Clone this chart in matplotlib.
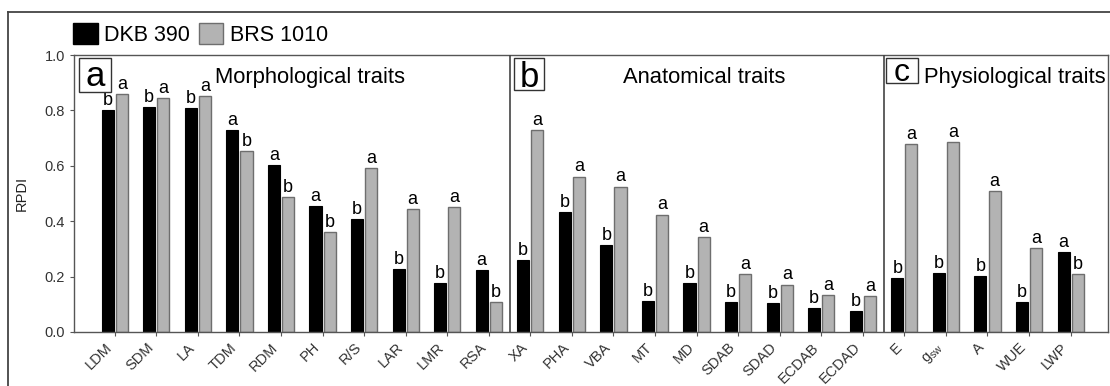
import numpy as np
import matplotlib
matplotlib.use('Agg')
import matplotlib.pyplot as plt
import matplotlib.transforms as mtransforms
from matplotlib.patches import Rectangle
from matplotlib.lines import Line2D

plt.rcParams['font.family'] = ['Liberation Sans', 'DejaVu Sans']

traits = ['LDM', 'SDM', 'LA', 'TDM', 'RDM', 'PH', 'R/S', 'LAR', 'LMR', 'RSA',
          'XA', 'PHA', 'VBA', 'MT', 'MD', 'SDAB', 'SDAD', 'ECDAB', 'ECDAD',
          'E', r'g$_{\mathregular{sw}}$', 'A', 'WUE', 'LWP']
dkb390 = [0.800, 0.812, 0.810, 0.728, 0.602, 0.455, 0.408, 0.226, 0.178, 0.225,
          0.260, 0.433, 0.314, 0.113, 0.178, 0.107, 0.105, 0.085, 0.076,
          0.194, 0.214, 0.203, 0.107, 0.290]
brs1010 = [0.858, 0.844, 0.853, 0.653, 0.486, 0.360, 0.591, 0.443, 0.450, 0.107,
           0.729, 0.561, 0.525, 0.424, 0.343, 0.209, 0.171, 0.134, 0.129,
           0.678, 0.685, 0.509, 0.302, 0.210]
letters_dkb = ['b', 'b', 'b', 'a', 'a', 'a', 'b', 'b', 'b', 'a',
               'b', 'b', 'b', 'b', 'b', 'b', 'b', 'b', 'b',
               'b', 'b', 'b', 'b', 'a']
letters_brs = ['a', 'a', 'a', 'b', 'b', 'b', 'a', 'a', 'a', 'b',
               'a', 'a', 'a', 'a', 'a', 'a', 'a', 'a', 'a',
               'a', 'a', 'a', 'a', 'b']
panel_tags = ['a', 'b', 'c']
panel_titles = ['Morphological traits', 'Anatomical traits', 'Physiological traits']

black = '#000000'
gray = '#b3b3b3'
edge_gray = '#6e6e6e'

fig = plt.figure(figsize=(11.1, 3.86), dpi=100)
ax = fig.add_axes([0.0667, 0.140, 0.9315, 0.7175])

x = np.arange(len(traits))
w = 0.29
off = 0.17
ax.bar(x - off, dkb390, w, color=black, edgecolor=black, linewidth=0.8, zorder=2)
ax.bar(x + off, brs1010, w, color=gray, edgecolor=edge_gray, linewidth=1.0, zorder=2)

for i in range(len(traits)):
    ax.text(x[i] - off, dkb390[i] + 0.004, letters_dkb[i], ha='center', va='bottom',
            fontsize=13)
    ax.text(x[i] + off, brs1010[i] + 0.004, letters_brs[i], ha='center', va='bottom',
            fontsize=13)

ax.set_xlim(-0.98, 23.9)
ax.set_ylim(0, 1.0)
ax.set_yticks(np.arange(0, 1.01, 0.2))
ax.set_yticklabels(['%.1f' % v for v in np.arange(0, 1.01, 0.2)], fontsize=10.5,
                   color='#333333')
ax.set_xticks(x)
ax.set_xticklabels(traits, rotation=45, ha='right', fontsize=10.5, color='#333333')
shift = mtransforms.ScaledTranslation(7 / 100, 0, fig.dpi_scale_trans)
for lab in ax.get_xticklabels():
    lab.set_transform(lab.get_transform() + shift)
ax.tick_params(axis='both', direction='out', length=3, width=0.8, color='#555555')
ax.tick_params(axis='x', pad=3)
ax.set_ylabel('RPDI', fontsize=10.5, color='#222222')
ax.yaxis.set_label_coords(-0.0435, 0.5)
for s in ax.spines.values():
    s.set_color('#555555')
    s.set_linewidth(1.0)

# panel separators
for xs in [9.5, 18.5]:
    ax.axvline(xs, color='#444444', linewidth=1.2, zorder=3)

# boxed panel tags (data coords)
tag_boxes = [(-0.865, 0.866, 0.77, 0.123), (9.615, 0.874, 0.72, 0.115), (18.56, 0.90, 0.77, 0.089)]
tag_base = [0.889, 0.883, 0.906]
tag_size = [25, 25, 23]
for (bx, by, bw, bh), tag, yb, fs in zip(tag_boxes, panel_tags, tag_base, tag_size):
    ax.add_patch(Rectangle((bx, by), bw, bh, facecolor='white', edgecolor='#333333',
                           linewidth=1.0, zorder=4, clip_on=False))
    ax.text(bx + bw / 2, yb, tag, ha='center', va='baseline', fontsize=fs, zorder=5)

# panel titles
ax.text(4.69, 0.90, panel_titles[0], ha='center', va='baseline', fontsize=15.8)
ax.text(14.18, 0.90, panel_titles[1], ha='center', va='baseline', fontsize=15.8)
ax.text(19.47, 0.90, panel_titles[2], ha='left', va='baseline', fontsize=15.8)

# legend above the axes
handles = [Rectangle((0, 0), 1, 1, facecolor=black, edgecolor=black),
           Rectangle((0, 0), 1, 1, facecolor=gray, edgecolor=edge_gray)]
fig.legend(handles, ['DKB 390', 'BRS 1010'], loc='center left', bbox_to_anchor=(0.058, 0.91),
           ncol=2, frameon=False, fontsize=15.5, handlelength=1.15, handleheight=1.1,
           handletextpad=0.3, columnspacing=0.4, borderaxespad=0)

# outer frame (left and top visible)
fig.add_artist(Line2D([0.0072, 0.0072], [0.0, 0.969], transform=fig.transFigure,
                      color='#444444', linewidth=1.3))
fig.add_artist(Line2D([0.0072, 1.0], [0.969, 0.969], transform=fig.transFigure,
                      color='#444444', linewidth=1.3))

fig.savefig('out.png', dpi=100)
